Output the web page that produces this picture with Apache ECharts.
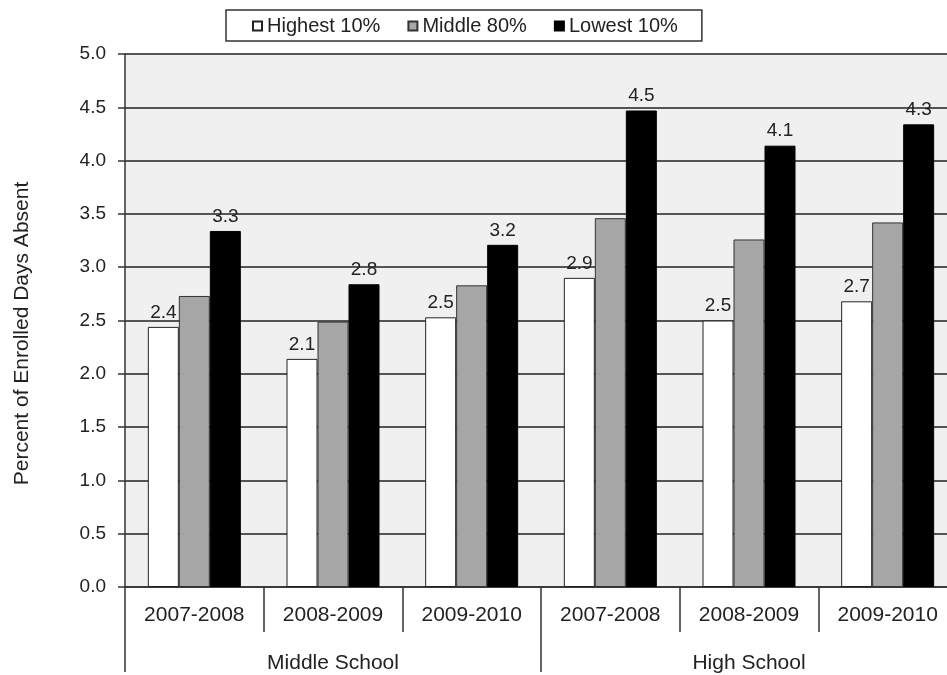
<!DOCTYPE html>
<html>
<head>
<meta charset="utf-8">
<script src="https://cdn.jsdelivr.net/npm/echarts@6/dist/echarts.min.js"></script>
<style>
  html, body { margin: 0; padding: 0; background: #ffffff; overflow: hidden; }
  #chart { width: 947px; height: 675px; }
</style>
</head>
<body>
<div id="chart"></div>
<script>
// School years, grouped by school level
const years = ['2007-2008', '2008-2009', '2009-2010', '2007-2008', '2008-2009', '2009-2010'];
const levels = ['Middle School', 'High School'];

// Percent of enrolled days absent, by attendance group
const highest10 = [2.44, 2.14, 2.53, 2.90, 2.50, 2.68];
const middle80  = [2.73, 2.49, 2.83, 3.46, 3.26, 3.42];
const lowest10  = [3.34, 2.84, 3.21, 4.47, 4.14, 4.34];

const seriesNames = ['Highest 10%', 'Middle 80%', 'Lowest 10%'];
const yTicks = { min: 0, max: 5, step: 0.5 };

const FONT = 'Liberation Sans, Arial, sans-serif';
const TEXT = '#222222';

const chart = echarts.init(document.getElementById('chart'), null, { renderer: 'canvas' });

const valueLabel = {
  show: true,
  position: 'top',
  distance: 5,
  fontFamily: FONT,
  fontSize: 19,
  color: TEXT,
  formatter: p => p.value.toFixed(1)
};

function barSeries(name, data, fill, border, withLabel) {
  return {
    name: name,
    type: 'bar',
    xAxisIndex: 0,
    data: data,
    barWidth: 31,
    barGap: '0%',
    itemStyle: { color: fill, borderColor: border, borderWidth: 1 },
    label: withLabel ? valueLabel : { show: false },
    emphasis: { disabled: true },
    animation: false
  };
}

chart.setOption({
  animation: false,
  backgroundColor: '#ffffff',
  textStyle: { fontFamily: FONT, color: TEXT },
  legend: {
    data: seriesNames,
    icon: 'rect',
    left: 226,
    top: 10,
    padding: [6, 24, 5, 26],
    itemWidth: 9,
    itemHeight: 9,
    itemGap: 27,
    backgroundColor: '#ffffff',
    borderColor: '#333333',
    borderWidth: 1.5,
    textStyle: { fontFamily: FONT, fontSize: 20, color: TEXT },
    selectedMode: false
  },
  grid: {
    left: 125,
    width: 832,
    top: 54,
    bottom: 88,
    outerBoundsMode: 'none',
    containLabel: false,
    show: true,
    backgroundColor: '#f0f0f0',
    borderWidth: 0
  },
  xAxis: [
    {
      type: 'category',
      data: years,
      position: 'bottom',
      axisLine: { show: true, lineStyle: { color: '#333333', width: 1.5 } },
      axisTick: { show: true, interval: 0, length: 45, lineStyle: { color: '#333333', width: 1.5 } },
      axisLabel: { interval: 0, margin: 18, fontFamily: FONT, fontSize: 21, color: TEXT },
      splitLine: { show: false }
    },
    {
      type: 'category',
      data: levels,
      position: 'bottom',
      axisLine: { show: false },
      axisTick: { show: true, interval: 0, length: 85, lineStyle: { color: '#333333', width: 1.5 } },
      axisLabel: { interval: 0, margin: 66, fontFamily: FONT, fontSize: 21, color: TEXT },
      splitLine: { show: false }
    }
  ],
  yAxis: {
    type: 'value',
    min: yTicks.min,
    max: yTicks.max,
    interval: yTicks.step,
    name: 'Percent of Enrolled Days Absent',
    nameLocation: 'middle',
    nameGap: 92,
    nameTextStyle: { fontFamily: FONT, fontSize: 21, color: TEXT, padding: [0, 26, 0, 0] },
    axisLine: { show: true, lineStyle: { color: '#333333', width: 1.5 } },
    axisTick: { show: true, length: 7, lineStyle: { color: '#333333', width: 1.5 } },
    axisLabel: { margin: 19, fontFamily: FONT, fontSize: 19, color: TEXT, formatter: v => v.toFixed(1) },
    splitLine: { show: true, lineStyle: { color: '#555555', width: 2 } }
  },
  series: [
    barSeries(seriesNames[0], highest10, '#ffffff', '#222222', true),
    barSeries(seriesNames[1], middle80, '#a6a6a6', '#333333', false),
    barSeries(seriesNames[2], lowest10, '#000000', '#000000', true)
  ]
});
</script>
</body>
</html>
